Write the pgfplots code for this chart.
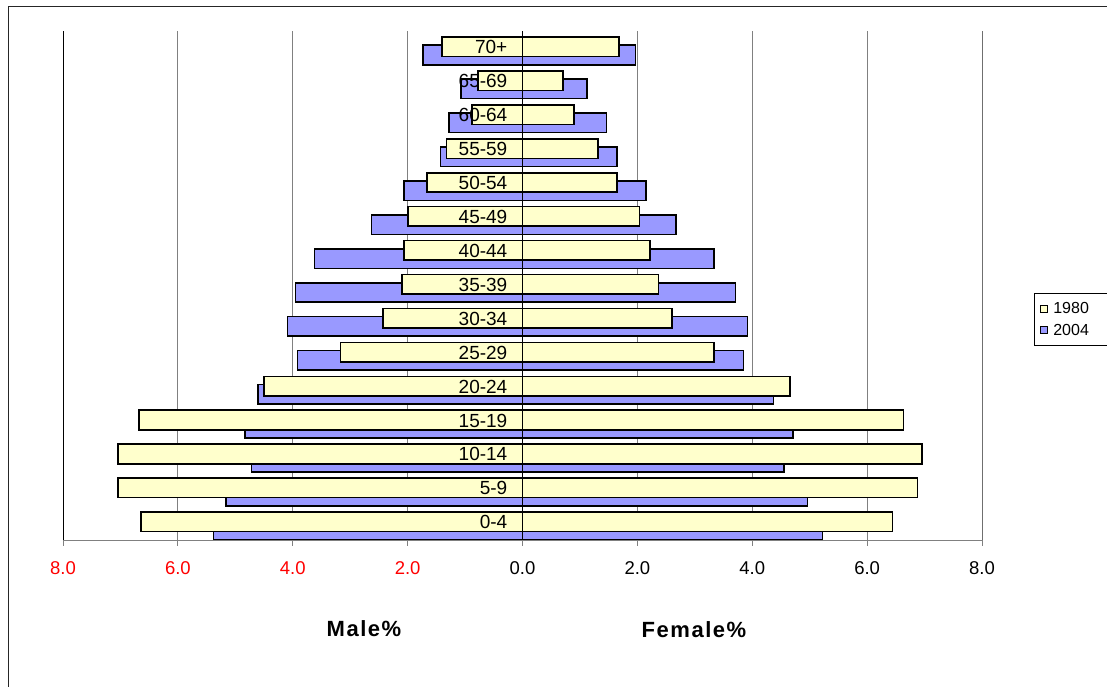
\documentclass[border=0pt]{standalone}
\usepackage{fontspec}
\setmainfont{Liberation Sans}
\usepackage{pgfplots}
\pgfplotsset{compat=1.18}
\usepackage{pgfplotstable}

\definecolor{bar80}{HTML}{FFFFCC}
\definecolor{bar04}{HTML}{9999FF}
\definecolor{gridgray}{HTML}{808080}

% population share by age group (%), males stored as negative values
\pgfplotstableread{
idx  m80    f80   m04    f04
0   -6.64  6.44  -5.38  5.22
1   -7.04  6.88  -5.16  4.96
2   -7.04  6.96  -4.72  4.55
3   -6.68  6.63  -4.83  4.71
4   -4.50  4.66  -4.61  4.37
5   -3.17  3.33  -3.92  3.85
6   -2.43  2.60  -4.09  3.92
7   -2.10  2.37  -3.95  3.71
8   -2.06  2.22  -3.62  3.33
9   -1.99  2.04  -2.63  2.67
10  -1.66  1.64  -2.06  2.15
11  -1.32  1.31  -1.43  1.64
12  -0.88  0.90  -1.28  1.46
13  -0.77  0.71  -1.07  1.12
14  -1.40  1.68  -1.73  1.97
}\pyramid

\tikzset{agelab/.style={anchor=base east, inner sep=0pt, font=\fontsize{19}{21}\selectfont, xshift=-15pt, yshift=-5.8pt}}

\begin{document}
\begin{tikzpicture}
\useasboundingbox (0pt,0pt) rectangle (1107pt,687pt);
% outer chart frame
\draw[line width=1pt, black!85] (8pt,-20pt) -- (8pt,680pt) -- (1130pt,680pt);

\begin{axis}[
  at={(63pt,147pt)}, anchor=south west,
  scale only axis, width=919pt, height=509pt,
  xmin=-8, xmax=8, ymin=-0.5, ymax=14.5,
  axis x line=bottom, axis y line=none,
  x axis line style={-, draw=gridgray, line width=0.8pt},
  xtick={-8,-6,-4,-2,0,2,4,6,8},
  xticklabels={\textcolor{red}{8.0},\textcolor{red}{6.0},\textcolor{red}{4.0},\textcolor{red}{2.0},0.0,2.0,4.0,6.0,8.0},
  xticklabel style={font=\fontsize{18.5}{20}\selectfont, anchor=base, yshift=-29pt},
  tick align=outside, major tick length=6pt,
  tick style={draw=gridgray, line width=0.8pt},
  xmajorgrids, grid style={draw=gridgray, line width=0.9pt},
  xbar, bar width=19.5pt,
  legend style={at={(1.0566,0.4853)}, anchor=north west, draw=black, line width=0.8pt,
    font=\fontsize{16}{18}\selectfont, inner xsep=6pt, inner ysep=7pt,
    row sep=5pt, cells={anchor=west},
    /tikz/every odd column/.append style={column sep=3pt}},
  legend image code/.code={\draw[#1, draw=black, line width=0.9pt] (0pt,-3.5pt) rectangle (7pt,3.5pt);},
]
% 2004 bars sit behind
\addplot[forget plot, fill=bar04, draw=black, line width=1.6pt, bar shift=-7pt] table[x=m04, y=idx] {\pyramid};
\addplot[forget plot, fill=bar04, draw=black, line width=1.6pt, bar shift=-7pt] table[x=f04, y=idx] {\pyramid};
% 1980 bars in front
\addplot[forget plot, fill=bar80, draw=black, line width=1.6pt, bar shift=1.2pt] table[x=m80, y=idx] {\pyramid};
\addplot[forget plot, fill=bar80, draw=black, line width=1.6pt, bar shift=1.2pt] table[x=f80, y=idx] {\pyramid};

\addlegendimage{fill=bar80}\addlegendentry{1980\rule{16pt}{0pt}}
\addlegendimage{fill=bar04}\addlegendentry{2004\rule{16pt}{0pt}}

% frame lines and the zero axis
\draw[black, line width=1pt] (axis cs:-8,-0.5) -- (axis cs:-8,14.5);
\draw[black, line width=1pt] (axis cs:8,-0.5) -- (axis cs:8,14.5);
\draw[black, line width=1.3pt] (axis cs:0,-0.5) -- (axis cs:0,14.5);

% age group labels beside the zero axis
\node[agelab] at (axis cs:0,0) {0-4};
\node[agelab] at (axis cs:0,1) {5-9};
\node[agelab] at (axis cs:0,2) {10-14};
\node[agelab] at (axis cs:0,3) {15-19};
\node[agelab] at (axis cs:0,4) {20-24};
\node[agelab] at (axis cs:0,5) {25-29};
\node[agelab] at (axis cs:0,6) {30-34};
\node[agelab] at (axis cs:0,7) {35-39};
\node[agelab] at (axis cs:0,8) {40-44};
\node[agelab] at (axis cs:0,9) {45-49};
\node[agelab] at (axis cs:0,10) {50-54};
\node[agelab] at (axis cs:0,11) {55-59};
\node[agelab] at (axis cs:0,12) {60-64};
\node[agelab] at (axis cs:0,13) {65-69};
\node[agelab] at (axis cs:0,14) {70+};
\end{axis}

\node[font=\fontsize{22}{24}\selectfont\bfseries\addfontfeatures{LetterSpace=7}] at (364pt,58pt) {Male\%};
\node[font=\fontsize{22}{24}\selectfont\bfseries\addfontfeatures{LetterSpace=7}] at (694pt,57pt) {Female\%};
\end{tikzpicture}
\end{document}
